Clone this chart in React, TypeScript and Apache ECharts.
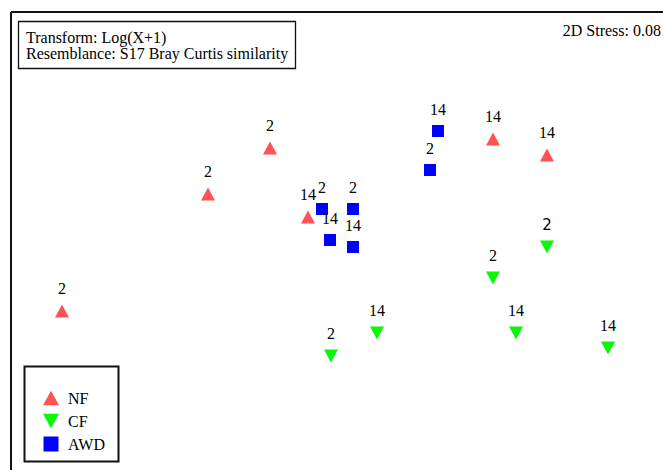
import React, { useEffect, useRef } from "react";
import * as echarts from "echarts";

// nMDS coordinates (arbitrary MDS units)
const nfX = [-1.375, -0.645, -0.335, -0.145, 0.78, 1.05];
const nfY = [-0.35, 0.235, 0.465, 0.12, 0.51, 0.43];
const nfLabels = ["2", "2", "2", "14", "14", "14"];

const cfX = [-0.03, 0.2, 0.78, 1.05, 0.895, 1.355];
const cfY = [-0.575, -0.46, -0.185, -0.03, -0.46, -0.535];
const cfLabels = ["2", "14", "2", "2", "14", "14"];

const awdX = [0.505, 0.465, -0.075, 0.08, -0.035, 0.08];
const awdY = [0.55, 0.355, 0.16, 0.16, 0.005, -0.03];
const awdLabels = ["14", "2", "2", "2", "14", "14"];

const infoLines = ["Transform: Log(X+1)", "Resemblance: S17 Bray Curtis similarity"];
const stressText = "2D Stress: 0.08";

const SERIF = "'Liberation Serif', 'Times New Roman', serif";

function build(xs: number[], ys: number[], labels: string[], sansIndex = -1) {
  return xs.map((x, i) => {
    const item: any = { value: [x, ys[i]], name: labels[i] };
    if (i === sansIndex) item.label = { fontFamily: "'DejaVu Sans', sans-serif", fontSize: 15 };
    return item;
  });
}

const UP = "path://M5,0 L10,9 L0,9 Z";
const DOWN = "path://M0,0 L10,0 L5,9 Z";

export default function App() {
  const ref = useRef<HTMLDivElement>(null);
  useEffect(() => {
    if (!ref.current) return;
    const chart = echarts.init(ref.current, null, { renderer: "svg" });
    const label = {
      show: true,
      position: "top" as const,
      distance: 8,
      formatter: (p: any) => p.name,
      color: "#000",
      fontFamily: SERIF,
      fontSize: 16,
    };
    chart.setOption({
      animation: false,
      backgroundColor: "#fff",
      grid: { left: 11, top: 12, width: 652, height: 458, show: false },
      xAxis: { type: "value", min: -1.63, max: 1.63, show: false },
      yAxis: { type: "value", min: -1.145, max: 1.145, show: false },
      legend: {
        orient: "vertical",
        left: 38,
        top: 385,
        itemWidth: 16,
        itemHeight: 15,
        itemGap: 7,
        textStyle: { fontFamily: SERIF, fontSize: 16, color: "#000", padding: [0, 0, 0, 4] },
        data: [
          { name: "NF", icon: UP },
          { name: "CF", icon: DOWN },
          { name: "AWD", icon: "path://M0,0 L12,0 L12,12 L0,12 Z" },
        ],
      },
      graphic: [
        { type: "line", shape: { x1: 11, y1: 12, x2: 663, y2: 12 }, style: { stroke: "#111", lineWidth: 2 } },
        { type: "line", shape: { x1: 11, y1: 12, x2: 11, y2: 470 }, style: { stroke: "#111", lineWidth: 2 } },
        { type: "rect", shape: { x: 18.5, y: 21.5, width: 277, height: 47 }, style: { fill: "#fff", stroke: "#111", lineWidth: 1.3 } },
        {
          type: "text",
          x: 26,
          y: 29,
          style: { text: infoLines.join("\n"), font: `16px ${SERIF}`, fill: "#000", lineHeight: 16 },
        },
        {
          type: "text",
          x: 661,
          y: 22,
          style: { text: stressText, font: `16px ${SERIF}`, fill: "#000", textAlign: "right" },
        },
        { type: "rect", shape: { x: 24.5, y: 366.5, width: 94, height: 95 }, style: { fill: "none", stroke: "#111", lineWidth: 2 } },
      ],
      series: [
        {
          name: "NF",
          type: "scatter",
          symbol: "triangle",
          symbolSize: [14, 13],
          itemStyle: { color: "#ff5252", opacity: 1 },
          label,
          data: build(nfX, nfY, nfLabels),
        },
        {
          name: "CF",
          type: "scatter",
          symbol: "triangle",
          symbolRotate: 180,
          symbolSize: [14, 13],
          itemStyle: { color: "#08f808", opacity: 1 },
          label,
          data: build(cfX, cfY, cfLabels, 3),
        },
        {
          name: "AWD",
          type: "scatter",
          symbol: "rect",
          symbolSize: 12,
          itemStyle: { color: "#0000ff", opacity: 1 },
          label,
          data: build(awdX, awdY, awdLabels),
        },
      ],
    });
    return () => chart.dispose();
  }, []);
  return (
    <div
      ref={ref}
      style={{ position: "fixed", left: 0, top: 0, width: 663, height: 470, background: "#fff" }}
    />
  );
}
